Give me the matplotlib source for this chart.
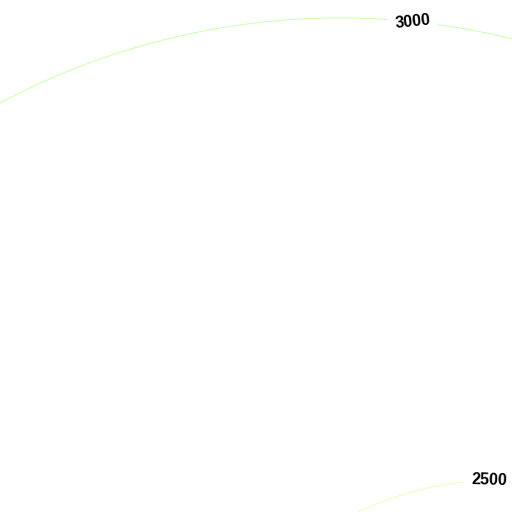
import numpy as np
import matplotlib
matplotlib.use("Agg")
from matplotlib import pyplot as plt

# contour levels and their ring geometry (centre x, centre y, radius) in plot units
levels = [3000, 2500]
centres_x = [340, 500]
centres_y = [740, 811]
radii = [722, 331]
line_colors = ["#c8ffa8", "#eaffb8"]
label_pos = [(413, 22), (489, 481)]

fig = plt.figure(figsize=(5.12, 5.12), dpi=100)
ax = fig.add_axes([0, 0, 1, 1])

xs = np.linspace(-20, 532, 900)
ys = np.linspace(-20, 532, 900)
X, Y = np.meshgrid(xs, ys)

for lev, cx, cy, r, col, pos in zip(levels, centres_x, centres_y, radii, line_colors, label_pos):
    # field scaled so that the wanted level sits on the ring
    Z = lev * np.hypot(X - cx, Y - cy) / r
    cs = ax.contour(X, Y, Z, levels=[lev], colors=[col], linewidths=0.65)
    lbl = ax.clabel(cs, manual=[pos], inline=True, inline_spacing=3,
                    fmt={lev: str(lev)}, fontsize=11.5, colors="black")
    for t in lbl:
        t.set_fontfamily("Liberation Sans")
        t.set_fontweight("bold")

ax.set_xlim(0, 512)
ax.set_ylim(512, 0)
ax.axis("off")

fig.savefig("out.png", dpi=100)
